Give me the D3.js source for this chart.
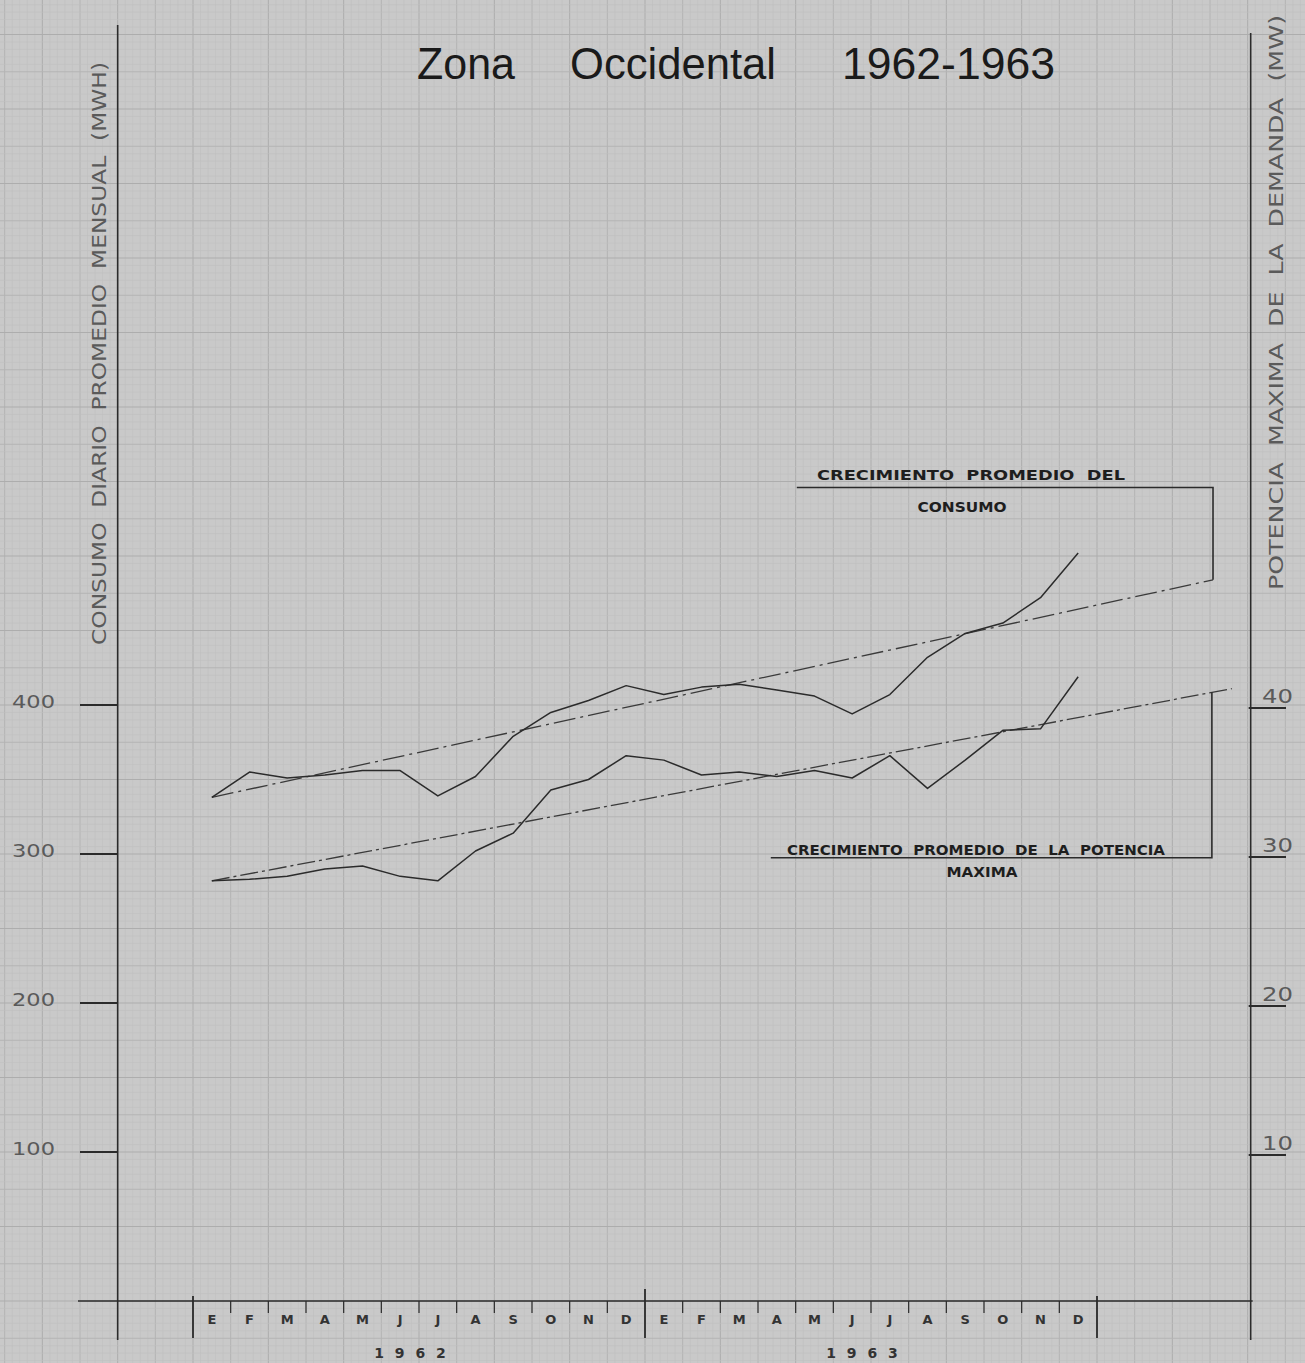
<!DOCTYPE html>
<html>
<head>
<meta charset="utf-8">
<script src="https://cdn.jsdelivr.net/npm/d3@7"></script>
<style>
  html, body { margin: 0; padding: 0; background: #c9c9c9; }
  svg { display: block; }
</style>
</head>
<body>
<svg id="chart" width="1305" height="1363"></svg>
<script>
// ---------------- DATA ----------------
const months = ["E","F","M","A","M","J","J","A","S","O","N","D"];
const years = ["1 9 6 2", "1 9 6 3"];
// Consumo diario promedio mensual (MWh), Ene 1962 .. Dic 1963
const consumo = [338, 355, 351, 353, 356, 356, 339, 352, 379, 395, 403, 413,
                 407, 412, 414, 410, 406, 394, 407, 432, 448, 455, 472, 502];
// Potencia maxima de la demanda (MW), Ene 1962 .. Dic 1963
const potencia = [28.2, 28.3, 28.5, 29.0, 29.2, 28.5, 28.2, 30.2, 31.4, 34.3, 35.0, 36.6,
                  36.3, 35.3, 35.5, 35.2, 35.6, 35.1, 36.6, 34.4, 36.3, 38.3, 38.4, 41.9];
// Trend lines (position in months from Jan 1962, value)
const trendConsumoPos = [0.5, 27.08];
const trendConsumoVal = [338, 484];
const trendPotenciaPos = [0.5, 27.58];
const trendPotenciaVal = [28.2, 41.1];
const leftTicks = [100, 200, 300, 400];
const rightTicks = [10, 20, 30, 40];

// ---------------- SCALES ----------------
const svg = d3.select("#chart");
const W = 1305, H = 1363;
const x = d3.scaleLinear().domain([0, 24]).range([193, 1097]);   // month boundaries
const yL = d3.scaleLinear().domain([0, 400]).range([1301, 705]);
const yR = d3.scaleLinear().domain([0, 40]).range([1301, 705]);

const ink = "#2b2b2b";
const grayInk = "#5a5a5a";

// ---------------- PAPER GRID ----------------
const grid = svg.append("g");
const mMin = Math.floor(x.invert(0)) - 1, mMax = Math.ceil(x.invert(W)) + 1;
const fineX = d3.range(mMin * 5, mMax * 5 + 1).map(k => k / 5);
grid.selectAll("line.vx").data(fineX).join("line")
  .attr("x1", d => x(d)).attr("x2", d => x(d)).attr("y1", 0).attr("y2", H)
  .attr("stroke", d => {
    const k = Math.round(d * 5);
    if (k % 10 === 0) return "#adadad";
    if (k % 5 === 0) return "#b4b4b4";
    return "#c0c0c0";
  })
  .attr("stroke-width", d => Math.round(d * 5) % 5 === 0 ? 1 : 0.6);
const vMin = Math.floor(yL.invert(H) / 5) * 5 - 5, vMax = Math.ceil(yL.invert(0) / 5) * 5 + 5;
const fineY = d3.range(vMin, vMax + 1, 5);
grid.selectAll("line.hy").data(fineY).join("line")
  .attr("y1", d => yL(d)).attr("y2", d => yL(d)).attr("x1", 0).attr("x2", W)
  .attr("stroke", d => {
    if (d % 50 === 0) return "#adadad";
    if (d % 25 === 0) return "#b4b4b4";
    return "#c0c0c0";
  })
  .attr("stroke-width", d => d % 25 === 0 ? 1 : 0.6);

// ---------------- TITLE ----------------
const titleFont = "'Liberation Sans', Arial, sans-serif";
[["Zona", 417, 98], ["Occidental", 570, 206], ["1962-1963", 842, 213]].forEach(([t, tx, tl]) => {
  svg.append("text").attr("x", tx).attr("y", 79)
    .attr("font-family", titleFont).attr("font-size", 45)
    .attr("textLength", tl).attr("lengthAdjust", "spacingAndGlyphs")
    .attr("fill", "#1a1a1a").text(t);
});

// ---------------- AXES ----------------
const axes = svg.append("g").attr("stroke", ink).attr("fill", "none");
// left vertical axis
axes.append("line").attr("x1", x(-2)).attr("x2", x(-2)).attr("y1", 25).attr("y2", 1340).attr("stroke-width", 1.6);
// right vertical axis
axes.append("line").attr("x1", x(28.08)).attr("x2", x(28.08)).attr("y1", 33).attr("y2", 1340).attr("stroke-width", 1.6);
// baseline
axes.append("line").attr("x1", 78).attr("x2", x(28.08) + 2).attr("y1", yL(0)).attr("y2", yL(0)).attr("stroke-width", 1.6);

// left ticks + labels
leftTicks.forEach(v => {
  axes.append("line").attr("x1", 80).attr("x2", x(-2)).attr("y1", yL(v)).attr("y2", yL(v)).attr("stroke-width", 1.8);
  svg.append("text").attr("x", 12).attr("y", yL(v) + 3)
    .attr("font-family", "'DejaVu Sans', sans-serif").attr("font-size", 18)
    .attr("textLength", 43).attr("lengthAdjust", "spacingAndGlyphs")
    .attr("fill", grayInk).text(v);
});
// right ticks + labels
rightTicks.forEach(v => {
  axes.append("line").attr("x1", x(28.08) - 2).attr("x2", 1286).attr("y1", yR(v) + 3).attr("y2", yR(v) + 3).attr("stroke-width", 1.8);
  svg.append("text").attr("x", 1262).attr("y", yR(v) - 2)
    .attr("font-family", "'DejaVu Sans', sans-serif").attr("font-size", 19)
    .attr("textLength", 31).attr("lengthAdjust", "spacingAndGlyphs")
    .attr("fill", grayInk).text(v);
});

// month ticks
d3.range(0, 25).forEach(i => {
  const big = i % 12 === 0;
  axes.append("line").attr("x1", x(i)).attr("x2", x(i))
    .attr("y1", big ? (i === 12 ? 1289 : 1296) : yL(0))
    .attr("y2", big ? 1338 : yL(0) + 12)
    .attr("stroke-width", big ? 1.8 : 1.2);
});
// month labels
d3.range(0, 24).forEach(i => {
  svg.append("text").attr("x", x(i + 0.5)).attr("y", 1324)
    .attr("text-anchor", "middle")
    .attr("font-family", "'DejaVu Sans', sans-serif").attr("font-size", 13)
    .attr("font-weight", "bold").attr("fill", "#333").text(months[i % 12]);
});
years.forEach((yr, k) => {
  svg.append("text").attr("x", x(12 * k + 5.8)).attr("y", 1358)
    .attr("text-anchor", "middle")
    .attr("font-family", "'DejaVu Sans', sans-serif").attr("font-size", 14)
    .attr("font-weight", "bold").attr("letter-spacing", 3).attr("fill", "#333").text(yr);
});

// axis titles
svg.append("text")
  .attr("transform", `translate(106,645) rotate(-90)`)
  .attr("font-family", "'DejaVu Sans', sans-serif").attr("font-size", 19)
  .attr("textLength", 583).attr("lengthAdjust", "spacingAndGlyphs")
  .attr("fill", grayInk).attr("xml:space", "preserve")
  .text("CONSUMO  DIARIO  PROMEDIO  MENSUAL  (MWH)");
svg.append("text")
  .attr("transform", `translate(1283,590) rotate(-90)`)
  .attr("font-family", "'DejaVu Sans', sans-serif").attr("font-size", 19)
  .attr("textLength", 575).attr("lengthAdjust", "spacingAndGlyphs")
  .attr("fill", grayInk).attr("xml:space", "preserve")
  .text("POTENCIA  MAXIMA  DE  LA  DEMANDA  (MW)");

// ---------------- TREND LINES ----------------
const trendLine = d3.line();
svg.append("path")
  .attr("d", trendLine(trendConsumoPos.map((p, i) => [x(p), yL(trendConsumoVal[i])])))
  .attr("fill", "none").attr("stroke", "#3a3a3a").attr("stroke-width", 1.3)
  .attr("stroke-dasharray", "22,5,3,5");
svg.append("path")
  .attr("d", trendLine(trendPotenciaPos.map((p, i) => [x(p), yR(trendPotenciaVal[i])])))
  .attr("fill", "none").attr("stroke", "#3a3a3a").attr("stroke-width", 1.3)
  .attr("stroke-dasharray", "18,4,3,4");

// ---------------- DATA LINES ----------------
const lineL = d3.line().x((d, i) => x(i + 0.5)).y(d => yL(d));
const lineR = d3.line().x((d, i) => x(i + 0.5)).y(d => yR(d));
svg.append("path").attr("d", lineL(consumo))
  .attr("fill", "none").attr("stroke", ink).attr("stroke-width", 1.5).attr("stroke-linejoin", "round");
svg.append("path").attr("d", lineR(potencia))
  .attr("fill", "none").attr("stroke", ink).attr("stroke-width", 1.5).attr("stroke-linejoin", "round");

// ---------------- ANNOTATIONS ----------------
const ann = svg.append("g").attr("stroke", ink).attr("fill", "none").attr("stroke-width", 1.6);
const cEndX = x(trendConsumoPos[1]), cEndY = yL(trendConsumoVal[1]);
ann.append("polyline").attr("points", `${x(16.03)},${yL(546)} ${cEndX},${yL(546)} ${cEndX},${cEndY}`);
const pBx = x(27.05);
const pTopY = yR(trendPotenciaVal[0] + (trendPotenciaVal[1] - trendPotenciaVal[0]) * (27.05 - 0.5) / (27.58 - 0.5));
ann.append("polyline").attr("points", `${pBx},${pTopY} ${pBx},${yR(29.75)} ${x(15.34)},${yR(29.75)}`);

const annFont = "'DejaVu Sans', sans-serif";
function annText(t, cx, by, len) {
  svg.append("text").attr("x", cx - len / 2).attr("y", by)
    .attr("font-family", annFont).attr("font-size", 14).attr("font-weight", "bold")
    .attr("textLength", len).attr("lengthAdjust", "spacingAndGlyphs")
    .attr("xml:space", "preserve").attr("fill", "#1e1e1e").text(t);
}
annText("CRECIMIENTO  PROMEDIO  DEL", 971, 480, 308);
annText("CONSUMO", 962, 512, 89);
annText("CRECIMIENTO  PROMEDIO  DE  LA  POTENCIA", 976, 855, 378);
annText("MAXIMA", 982, 877, 71);
</script>
</body>
</html>
